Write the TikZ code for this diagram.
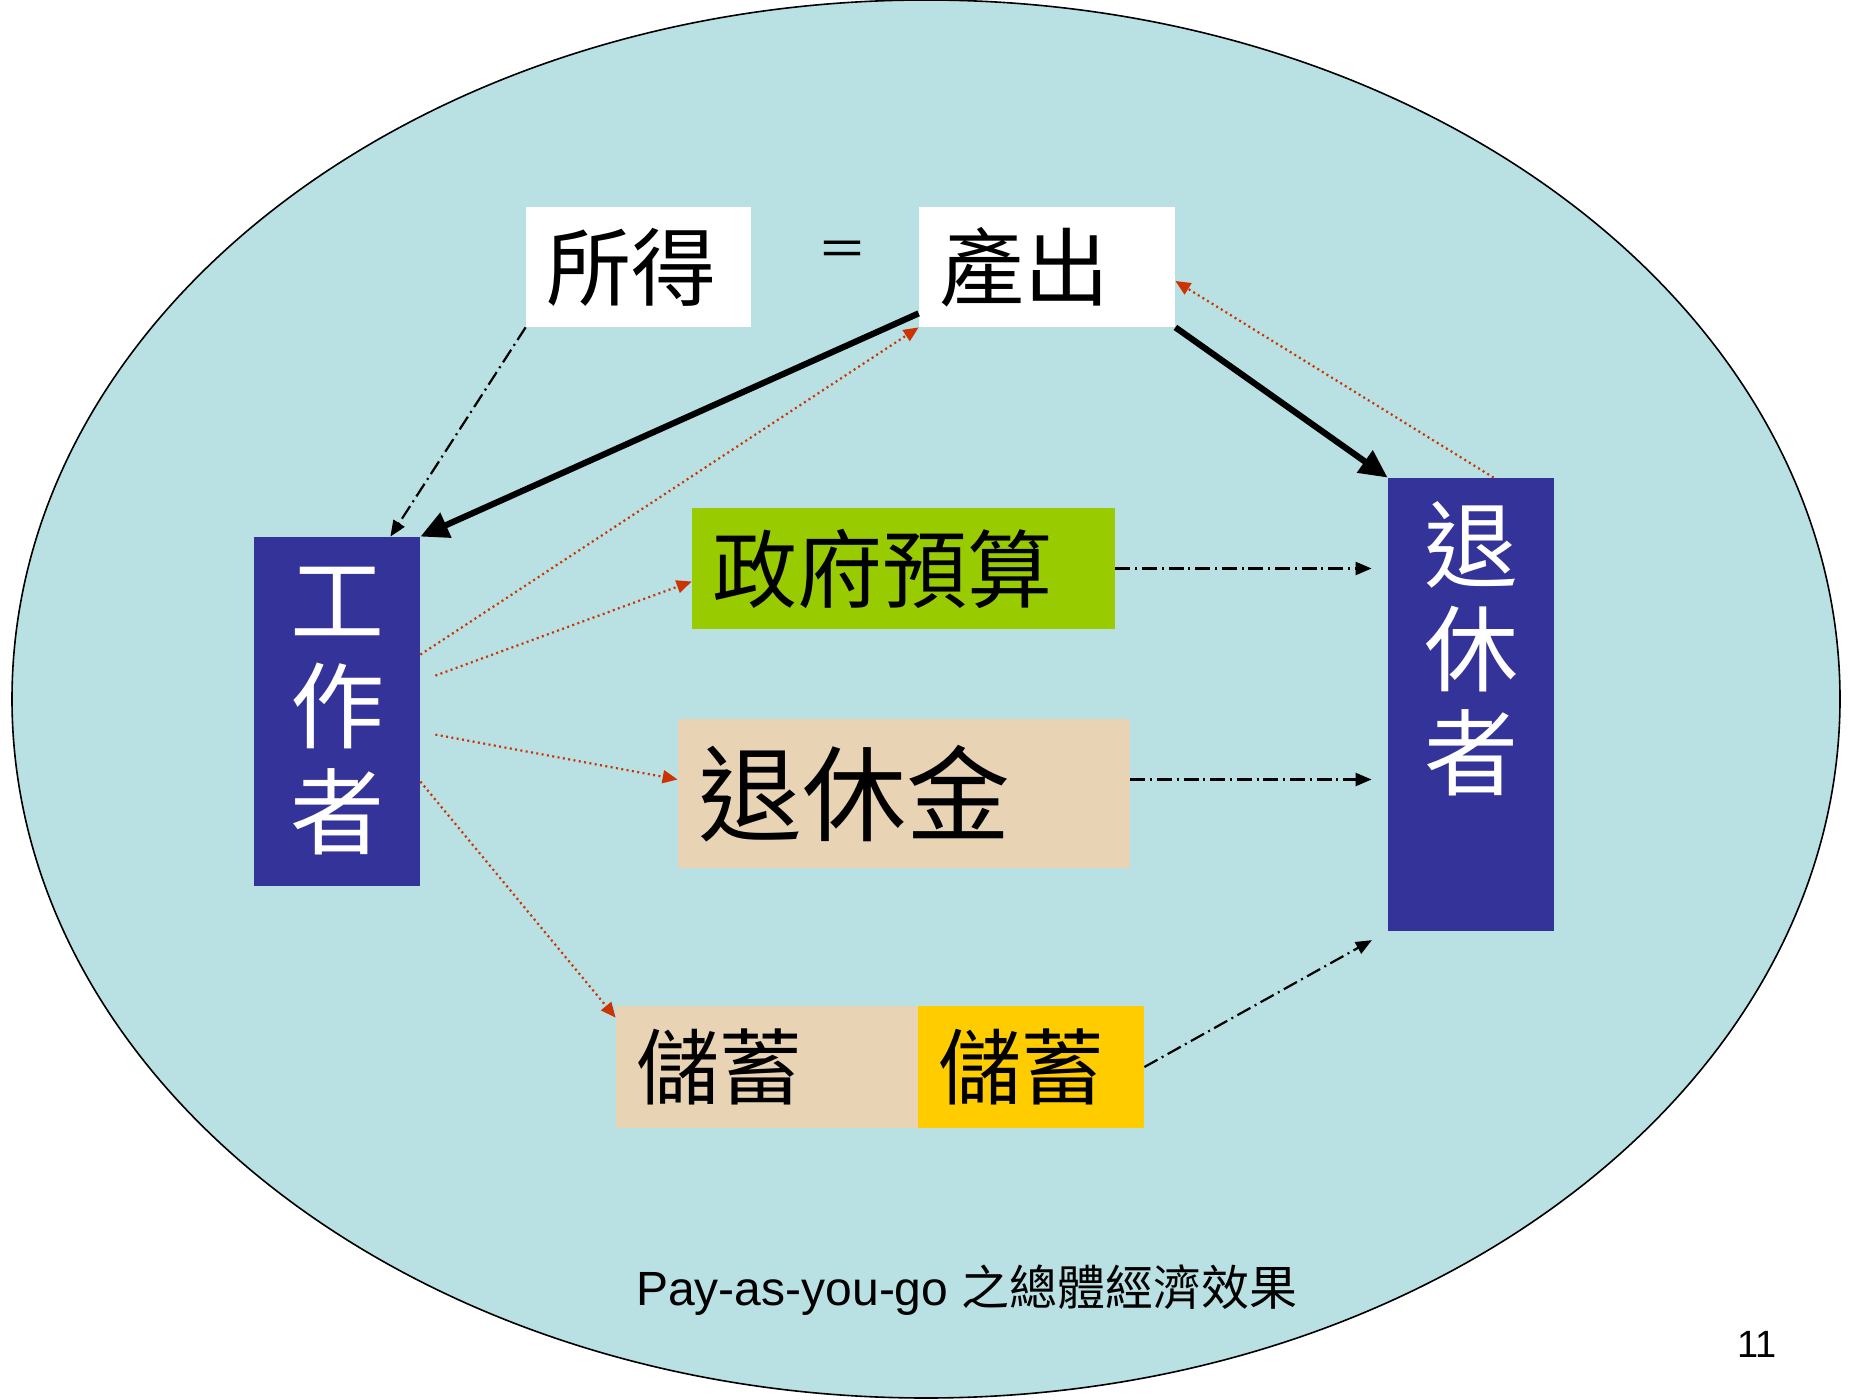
\documentclass[tikz,border=0pt]{standalone}
\usepackage{fontspec}
\setmainfont{Liberation Sans}
\newfontfamily\cjk{Noto Sans CJK TC}
\usetikzlibrary{arrows.meta,calc}
\definecolor{bgblue}{HTML}{B9E0E3}
\definecolor{navy}{HTML}{333399}
\definecolor{lime}{HTML}{99CC00}
\definecolor{tanbox}{HTML}{E8D3B5}
\definecolor{gold}{HTML}{FFCC00}
\definecolor{rust}{HTML}{CC3300}
\begin{document}
\begin{tikzpicture}[x=0.5pt,y=-0.5pt,
 box/.style={rectangle, inner xsep=10pt, inner ysep=0pt, align=left, anchor=center, font=\cjk\fontsize{42.5}{50}\selectfont},
 vbox/.style={rectangle, fill=navy, text=white, inner sep=0pt, minimum width=83pt},
 thickarrow/.style={line width=3.1pt, -{Triangle[length=14pt,width=13pt]}},
 dashdot/.style={line width=1.1pt, dash pattern=on 7.5pt off 2.4pt on 1pt off 2.4pt, -{Triangle[length=8pt,width=6.5pt]}},
 reddot/.style={rust, line width=1.1pt, dash pattern=on 1pt off 1.7pt, -{Triangle[length=7.5pt,width=6.5pt]}}
]
\fill[white] (0,0) rectangle (1852,1400);
\useasboundingbox (0,0) rectangle (1852,1400);
\draw[fill=bgblue, line width=0.8pt] (926,699) ellipse [x radius=457pt, y radius=349.5pt];

% boxes
\node[box, fill=white, text width=92.5pt, minimum height=60pt] (sd) at (638.5,267) {所得};
\node[box, fill=white, text width=108pt, minimum height=60pt] (pc) at (1047,267) {產出};
\node (eq) at (842,254) {\cjk\fontsize{25}{28}\selectfont ＝};
\node[box, fill=lime, text width=191.5pt, minimum height=60.5pt] (gov) at (903.5,568.5) {政府預算};
\node[box, fill=tanbox, text width=206pt, minimum height=74.5pt, font=\cjk\fontsize{52}{58}\selectfont] (pen) at (904,793.5) {退休金};
\node[box, fill=tanbox, text width=131pt, minimum height=61pt, font=\cjk\fontsize{41.5}{48}\selectfont] (sv1) at (767,1067) {儲蓄};
\node[box, fill=gold, text width=93pt, minimum height=61pt, font=\cjk\fontsize{41.5}{48}\selectfont] (sv2) at (1031,1067) {儲蓄};

\node[vbox, minimum height=174.5pt, align=center, font=\cjk\fontsize{47}{53}\selectfont] (wk) at (337,711.5) {工\\作\\者};
\node[vbox] (ret) at (1471,704.5) {\parbox[c][226.5pt][t]{83pt}{\vspace*{12pt}\centering\cjk\fontsize{47}{52}\selectfont 退\\休\\者}};

\node (cap) at (967,1290) {\fontsize{24}{28}\selectfont Pay-as-you-go {\cjk\fontsize{24}{28}\selectfont 之總體經濟效果}};
\node (pg) at (1757,1344) {\fontsize{19}{22}\selectfont 11};

% connectors
\draw[thickarrow] ($(pc.south west)+(0,-14)$) -- (wk.north east);
\draw[thickarrow] (pc.south east) -- (ret.north west);
\draw[dashdot] (sd.south west) -- ($(wk.north east)+(-30,0)$);
\draw[reddot] ($(wk.north east)+(0,118)$) -- (pc.south west);
\draw[reddot] ($(wk.north east)+(15,139)$) -- ($(gov.west)+(0,13)$);
\draw[reddot] ($(wk.north east)+(15,198)$) -- ($(pen.west)+(0,-14)$);
\draw[reddot] ($(wk.north east)+(0,245)$) -- ($(sv1.north west)+(0,12)$);
\draw[reddot] ($(ret.north west)+(106,0)$) -- ($(pc.east)+(0,14)$);
\coordinate (govout) at (gov.east);
\coordinate (penout) at ($(pen.east)+(0,-14)$);
\draw[dashdot, shorten >=8pt] (govout) -- (govout -| ret.west);
\draw[dashdot, shorten >=8pt] (penout) -- (penout -| ret.west);
\draw[dashdot, shorten >=9pt] (sv2.east) -- (ret.south west);
\end{tikzpicture}
\end{document}
